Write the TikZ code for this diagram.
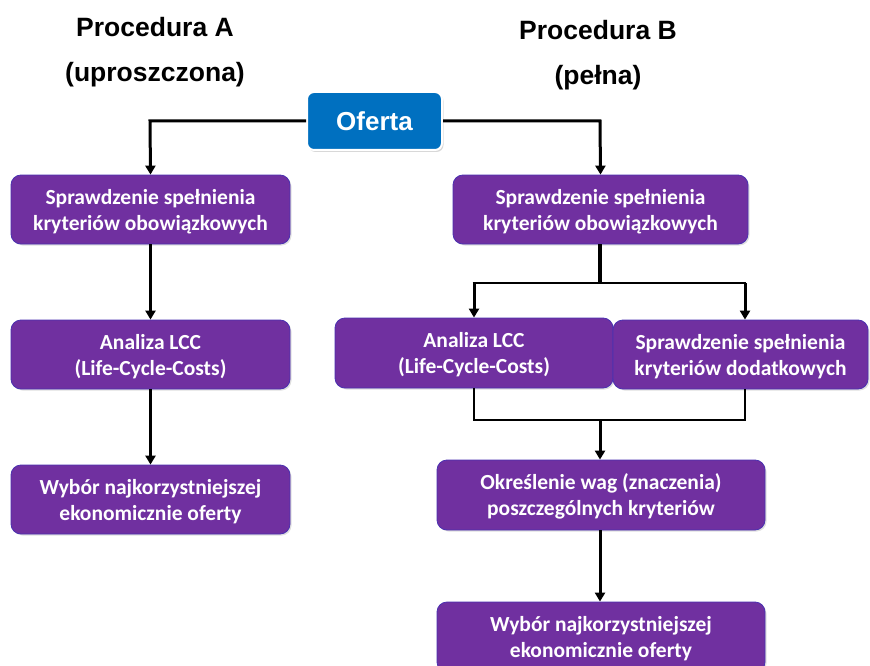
\documentclass[tikz,border=0pt]{standalone}
\usepackage{fontspec}
\setmainfont{Carlito}
\newfontfamily\arialfont{Liberation Sans}
\usetikzlibrary{arrows.meta,shadows}
\definecolor{boxpurple}{HTML}{7030A0}
\definecolor{boxblue}{HTML}{0070C0}
\definecolor{boxedge}{HTML}{4A30B0}
\begin{document}
\begin{tikzpicture}[x=1pt,y=-1pt,
  pbox/.style={draw=boxedge, line width=0.8pt, fill=boxpurple, rounded corners=10pt,
    text=white, font=\bfseries\fontsize{21.5}{26}\selectfont, align=center,
    inner sep=0pt, text depth=-4pt, drop shadow={shadow xshift=1.5pt, shadow yshift=-1.5pt, opacity=0.25}},
  obox/.style={draw=white, line width=2pt, fill=boxblue, rounded corners=7pt,
    text=white, font=\arialfont\bfseries\fontsize{26}{30}\selectfont,
    inner sep=0pt, minimum width=135pt, minimum height=58pt,
    drop shadow={shadow xshift=1.5pt, shadow yshift=-2pt, opacity=0.3}},
  ttl/.style={font=\arialfont\bfseries\fontsize{26.5}{30}\selectfont, text=black},
  conn/.style={line width=3pt, black},
  hconn/.style={line width=2.6pt, black},
  arr/.style={conn, -{Triangle[length=9pt,width=10pt]}}]
\useasboundingbox (0,0) rectangle (870,666);
\fill[white] (0,0) rectangle (870,666);

% titles
\node[ttl] (tA1) at (155,27) {Procedura A};
\node[ttl] (tA2) at (155,75) {(uproszczona)};
\node[ttl] (tB1) at (598,30) {Procedura B};
\node[ttl] (tB2) at (598,78) {(pełna)};

% boxes
\node[obox] (of) at (374.5,121) {Oferta};

\node[pbox, minimum width=279pt, minimum height=69pt] (a1) at (150.5,209.5) {Sprawdzenie spełnienia\\kryteriów obowiązkowych};
\node[pbox, minimum width=279pt, minimum height=69pt] (a2) at (150.5,354.5) {Analiza LCC\\(Life-Cycle-Costs)};
\node[pbox, minimum width=279pt, minimum height=69pt] (a3) at (150.5,499.5) {Wybór najkorzystniejszej\\ekonomicznie oferty};

\node[pbox, minimum width=295pt, minimum height=69pt] (b1) at (600.5,209.5) {Sprawdzenie spełnienia\\kryteriów obowiązkowych};
\node[pbox, minimum width=278pt, minimum height=70pt] (b2) at (474,353) {Analiza LCC\\(Life-Cycle-Costs)};
\node[pbox, minimum width=255pt, minimum height=69pt] (b3) at (740.5,354.5) {Sprawdzenie spełnienia\\kryteriów dodatkowych};
\node[pbox, minimum width=328pt, minimum height=70pt] (b4) at (601,495) {Określenie wag (znaczenia)\\poszczególnych kryteriów};
\node[pbox, minimum width=328pt, minimum height=70pt] (b5) at (601,637) {Wybór najkorzystniejszej\\ekonomicznie oferty};

% junction coordinates
\coordinate (jl) at (150,121);
\coordinate (jr) at (600,121);
\coordinate (s1) at (600,283);
\coordinate (s1l) at (474,283);
\coordinate (s1r) at (745,283);
\coordinate (m1l) at (474,420);
\coordinate (m1r) at (745,420);
\coordinate (m1) at (600,420);

% connectors
\draw[arr] (of.west) -- (jl) -- (a1.north);
\draw[arr] (of.east) -- (jr) -- (b1.north);
\draw[arr] (a1) -- (a2);
\draw[arr] (a2) -- (a3);

\draw[conn, line width=4pt] (b1.south -| s1) -- (s1);
\draw[hconn] ([xshift=-1.3pt]s1l) -- ([xshift=1.3pt]s1r);
\draw[arr] (s1l) -- (s1l |- b2.north);
\draw[arr] (s1r) -- (s1r |- b3.north);
\draw[hconn, line join=miter] (s1l |- b2.south) -- (m1l) -- (m1r) -- (s1r |- b3.south);
\draw[arr] (m1) -- (b4.north -| m1);
\draw[arr] (b4.south -| m1) -- (b5.north -| m1);
\end{tikzpicture}
\end{document}
